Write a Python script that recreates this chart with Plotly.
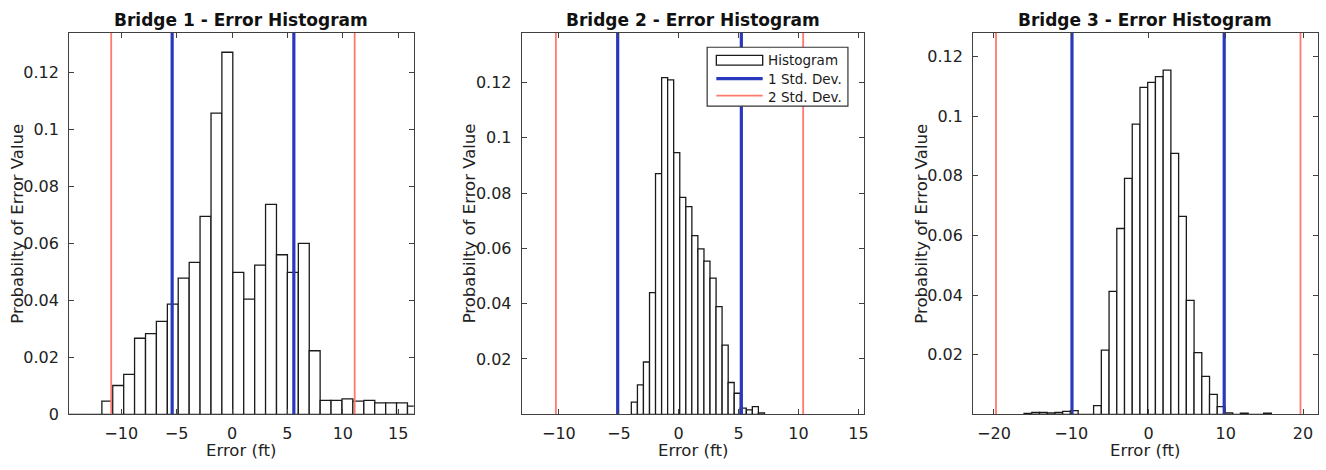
import plotly.graph_objects as go

# ---------------- data ----------------
b1_centers = [-14.21, -13.22, -12.24, -11.25, -10.27, -9.28, -8.30, -7.31, -6.33, -5.34,
              -4.36, -3.37, -2.39, -1.40, -0.42, 0.57, 1.55, 2.54, 3.52, 4.51,
              5.49, 6.48, 7.46, 8.45, 9.43, 10.42, 11.40, 12.39, 13.37, 14.36,
              15.34, 16.33]
b1_prob = [0.0, 0.0, 0.0, 0.0046, 0.0101, 0.0140, 0.0267, 0.0283, 0.0326, 0.0387,
           0.0478, 0.0533, 0.0695, 0.1057, 0.1271, 0.0498, 0.0404, 0.0524, 0.0737, 0.0560,
           0.0498, 0.0600, 0.0223, 0.0049, 0.0049, 0.0054, 0.0046, 0.0049, 0.0040, 0.0040,
           0.0040, 0.0029]
b1_width = 0.985
b1_std1 = [-5.40, 5.58]
b1_std2 = [-10.90, 11.07]

b2_centers = [-3.70, -3.19, -2.69, -2.18, -1.68, -1.17, -0.67, -0.16, 0.34, 0.85,
              1.35, 1.86, 2.36, 2.87, 3.37, 3.88, 4.38, 4.89, 5.39, 5.90,
              6.40, 6.91]
b2_prob = [0.0044, 0.0106, 0.0189, 0.0440, 0.0870, 0.1217, 0.1209, 0.0946, 0.0784, 0.0751,
           0.0646, 0.0598, 0.0554, 0.0492, 0.0389, 0.0250, 0.0115, 0.0076, 0.0022, 0.0016,
           0.0028, 0.0005]
b2_width = 0.505
b2_std1 = [-5.09, 5.23]
b2_std2 = [-10.25, 10.39]

b3_centers = [-15.6, -14.6, -13.6, -12.6, -11.6, -10.6, -9.6, -8.6, -7.6, -6.6,
              -5.6, -4.6, -3.6, -2.6, -1.6, -0.6, 0.4, 1.4, 2.4, 3.4,
              4.4, 5.4, 6.4, 7.4, 8.4, 9.4, 10.4, 11.4, 12.4, 13.4,
              14.4, 15.4]
b3_prob = [0.0003, 0.0006, 0.0006, 0.0005, 0.0006, 0.0010, 0.0012, 0.0, 0.0, 0.0029,
           0.0215, 0.0412, 0.0623, 0.0791, 0.0973, 0.1096, 0.1113, 0.1132, 0.1154, 0.0875,
           0.0664, 0.0382, 0.0207, 0.0127, 0.0067, 0.0026, 0.0005, 0.0, 0.0004, 0.0,
           0.0, 0.0004]
b3_width = 1.0
b3_std1 = [-9.90, 9.80]
b3_std2 = [-19.73, 19.67]

titles = ["Bridge 1 - Error Histogram", "Bridge 2 - Error Histogram", "Bridge 3 - Error Histogram"]
x_label = "Error (ft)"
y_label = "Probabilty of Error Value"
legend_names = ["Histogram", "1 Std. Dev.", "2 Std. Dev."]

x_ticks = [[-10, -5, 0, 5, 10, 15], [-10, -5, 0, 5, 10, 15], [-20, -10, 0, 10, 20]]
y_ticks = [[0, 0.02, 0.04, 0.06, 0.08, 0.1, 0.12],
           [0.02, 0.04, 0.06, 0.08, 0.1, 0.12],
           [0.02, 0.04, 0.06, 0.08, 0.1, 0.12]]
y_ticktext = [["0", "0.02", "0.04", "0.06", "0.08", "0.1", "0.12"],
              ["0.02", "0.04", "0.06", "0.08", "0.1", "0.12"],
              ["0.02", "0.04", "0.06", "0.08", "0.1", "0.12"]]
x_ranges = [[-14.7, 16.4], [-13.1, 15.5], [-22.7, 21.9]]
y_ranges = [[0, 0.134], [0, 0.138], [0, 0.128]]

# ---------------- style ----------------
W, H = 1326, 470
FONT = "DejaVu Sans"
BLUE = "#2a38bd"
RED = "#ff7a6c"
AX = "#404040"
TXT = "#222222"
BAR_LINE = "#1a1a1a"

px_left = [69.3, 523.3, 976.0]
px_right = [415.0, 867.0, 1321.7]
px_top, px_bottom = 33.3, 423.3

fig = go.Figure()

panels = [
    (b1_centers, b1_prob, b1_width, b1_std1, b1_std2),
    (b2_centers, b2_prob, b2_width, b2_std1, b2_std2),
    (b3_centers, b3_prob, b3_width, b3_std1, b3_std2),
]

for i, (cx, pv, bw, s1, s2) in enumerate(panels):
    xa = "x" if i == 0 else f"x{i+1}"
    ya = "y" if i == 0 else f"y{i+1}"
    fig.add_trace(go.Bar(
        x=cx, y=pv, width=bw, xaxis=xa, yaxis=ya,
        marker=dict(color="white", line=dict(color=BAR_LINE, width=1.3)),
        name=legend_names[0], showlegend=False,
    ))
    top = y_ranges[i][1]
    for v in s1:
        fig.add_trace(go.Scatter(
            x=[v, v], y=[0, top], mode="lines", xaxis=xa, yaxis=ya,
            line=dict(color=BLUE, width=3.2), name=legend_names[1], showlegend=False,
        ))
    for v in s2:
        fig.add_trace(go.Scatter(
            x=[v, v], y=[0, top], mode="lines", xaxis=xa, yaxis=ya,
            line=dict(color=RED, width=1.8), name=legend_names[2], showlegend=False,
        ))

layout = dict(
    width=W, height=H, margin=dict(l=0, r=0, t=0, b=0),
    paper_bgcolor="white", plot_bgcolor="white",
    font=dict(family=FONT, color=TXT),
    barmode="overlay",
    showlegend=False,
)

annotations = []
shapes = []
for i in range(3):
    sfx = "" if i == 0 else str(i + 1)
    common = dict(
        showline=True, linecolor=AX, linewidth=1, mirror="ticks",
        ticks="inside", ticklen=5, tickcolor=AX, tickwidth=1,
        showgrid=False, zeroline=False,
        tickfont=dict(family=FONT, size=16, color=TXT),
    )
    layout["xaxis" + sfx] = dict(
        common,
        domain=[px_left[i] / W, px_right[i] / W],
        range=x_ranges[i], anchor="y" + sfx,
        tickmode="array", tickvals=x_ticks[i],
        ticklabelstandoff=5,
    )
    layout["yaxis" + sfx] = dict(
        common,
        domain=[(H - px_bottom) / H, (H - px_top) / H],
        range=y_ranges[i], anchor="x" + sfx,
        tickmode="array", tickvals=y_ticks[i], ticktext=y_ticktext[i],
        ticklabelstandoff=6,
    )
    cx_px = (px_left[i] + px_right[i]) / 2
    annotations.append(dict(
        text="<b>" + titles[i] + "</b>", x=cx_px / W, y=(H - 20.5) / H,
        xref="paper", yref="paper", xanchor="center", yanchor="middle",
        showarrow=False, font=dict(family=FONT, size=17, color="#111111"),
    ))
    annotations.append(dict(
        text=x_label, x=cx_px / W, y=(H - 460) / H,
        xref="paper", yref="paper", xanchor="center", yanchor="middle",
        showarrow=False, font=dict(family=FONT, size=16.5, color=TXT),
    ))
    annotations.append(dict(
        text=y_label, x=(px_left[i] - 52) / W, y=(H - (px_top + px_bottom) / 2) / H,
        xref="paper", yref="paper", xanchor="center", yanchor="middle",
        textangle=-90, showarrow=False, font=dict(family=FONT, size=16.5, color=TXT),
    ))

# ---- legend box in panel 2 (drawn manually to match the wide histogram swatch) ----
def px_x(v):
    return v / W

def px_y(v):
    return (H - v) / H

shapes.append(dict(type="rect", xref="paper", yref="paper",
                   x0=px_x(709.3), x1=px_x(850.5), y0=px_y(108.5), y1=px_y(48.3),
                   line=dict(color="#333333", width=1.2), fillcolor="white", layer="above"))
shapes.append(dict(type="rect", xref="paper", yref="paper",
                   x0=px_x(718.5), x1=px_x(765), y0=px_y(66.5), y1=px_y(56.5),
                   line=dict(color=BAR_LINE, width=1.3), fillcolor="white", layer="above"))
shapes.append(dict(type="line", xref="paper", yref="paper",
                   x0=px_x(718.5), x1=px_x(765), y0=px_y(80.3), y1=px_y(80.3),
                   line=dict(color=BLUE, width=3.2), layer="above"))
shapes.append(dict(type="line", xref="paper", yref="paper",
                   x0=px_x(718.5), x1=px_x(765), y0=px_y(97.8), y1=px_y(97.8),
                   line=dict(color=RED, width=1.8), layer="above"))
for name, yc in zip(legend_names, [61.7, 80.5, 99.0]):
    annotations.append(dict(
        text=name, x=px_x(768.5), y=px_y(yc), xref="paper", yref="paper",
        xanchor="left", yanchor="middle", showarrow=False,
        font=dict(family=FONT, size=13.5, color="#1a1a1a"),
    ))

layout["annotations"] = annotations
layout["shapes"] = shapes
fig.update_layout(**layout)

fig.write_html(
    "out.html",
    config={"displayModeBar": False},
    post_script="document.body.style.margin='0';document.body.style.overflow='hidden';",
)
